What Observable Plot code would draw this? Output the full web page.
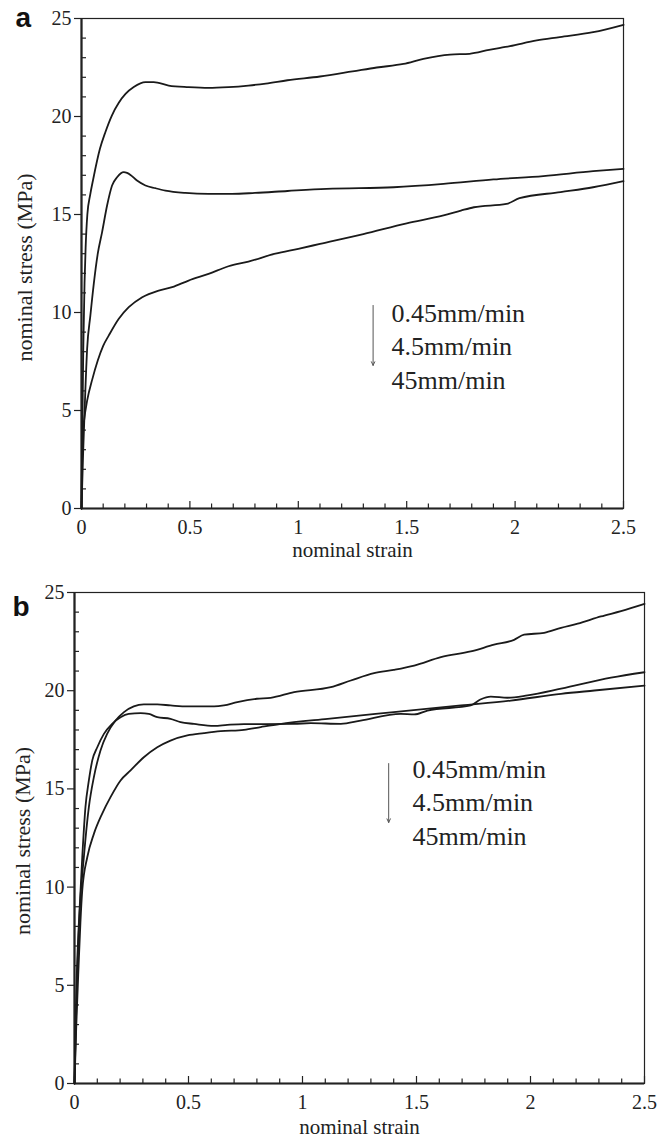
<!DOCTYPE html>
<html><head><meta charset="utf-8">
<script src="https://cdn.jsdelivr.net/npm/d3@7"></script>
<script src="https://cdn.jsdelivr.net/npm/@observablehq/plot@0.6"></script>
<style>body{margin:0;background:#fff;} #a svg,#b svg{display:block;}</style>
</head><body><div id="a"></div><div id="b"></div>
<script>
// ---- tick values ----
const xMajor = [0, 0.5, 1, 1.5, 2, 2.5];
const xMinor = [0.1,0.2,0.3,0.4,0.6,0.7,0.8,0.9,1.1,1.2,1.3,1.4,1.6,1.7,1.8,1.9,2.1,2.2,2.3,2.4];
const yMajor = [0, 5, 10, 15, 20, 25];
const yMinor = [1,2,3,4,6,7,8,9,11,12,13,14,16,17,18,19,21,22,23,24];
const legendLabels = ["0.45mm/min", "4.5mm/min", "45mm/min"];
const xTitle = "nominal strain";
const yTitle = "nominal stress (MPa)";

// ---- panel a: [strain, stress] ----
const aUpper = [[0,0],[0.004,4],[0.008,8],[0.014,11.5],[0.019,13.3],[0.027,15],[0.04,16],[0.054,16.8],[0.085,18.35],[0.11,19.2],[0.14,20.05],[0.172,20.7],[0.203,21.15],[0.241,21.5],[0.295,21.75],[0.333,21.75],[0.402,21.58],[0.494,21.5],[0.586,21.46],[0.678,21.5],[0.77,21.58],[0.85,21.68],[0.95,21.85],[1.10,22.04],[1.25,22.3],[1.362,22.5],[1.485,22.68],[1.577,22.94],[1.70,23.16],[1.79,23.2],[1.88,23.4],[1.976,23.59],[2.10,23.88],[2.206,24.05],[2.36,24.3],[2.5,24.68]];
const aMiddle = [[0,0],[0.008,3],[0.016,5.5],[0.026,8.15],[0.041,9.85],[0.057,11.5],[0.075,13.0],[0.095,14.1],[0.118,15.46],[0.141,16.48],[0.164,16.9],[0.195,17.16],[0.21,17.12],[0.226,17.02],[0.256,16.73],[0.295,16.48],[0.341,16.34],[0.387,16.22],[0.479,16.1],[0.586,16.05],[0.694,16.05],[0.80,16.1],[0.95,16.2],[1.13,16.31],[1.44,16.39],[1.67,16.56],[1.90,16.79],[2.13,16.96],[2.36,17.21],[2.5,17.33]];
const aLower = [[0,0],[0.002,2.5],[0.004,3.6],[0.012,4.5],[0.026,5.5],[0.05,6.6],[0.075,7.55],[0.1,8.3],[0.126,8.83],[0.172,9.68],[0.218,10.27],[0.28,10.78],[0.356,11.12],[0.418,11.29],[0.494,11.63],[0.586,11.97],[0.678,12.36],[0.77,12.6],[0.894,13.0],[1.0,13.25],[1.1,13.5],[1.3,14.0],[1.5,14.55],[1.67,14.95],[1.75,15.2],[1.81,15.37],[1.96,15.54],[2.02,15.83],[2.21,16.14],[2.36,16.39],[2.5,16.7]];

// ---- panel b ----
const bUpper = [[0,0],[0.006,3],[0.012,5.5],[0.023,8.81],[0.041,11.52],[0.063,14.07],[0.085,15.6],[0.114,16.96],[0.143,17.8],[0.18,18.48],[0.217,18.91],[0.26,19.2],[0.304,19.3],[0.363,19.3],[0.421,19.25],[0.495,19.2],[0.612,19.2],[0.655,19.25],[0.714,19.42],[0.80,19.59],[0.86,19.64],[0.963,19.93],[1.124,20.18],[1.212,20.52],[1.314,20.89],[1.40,21.06],[1.49,21.28],[1.607,21.71],[1.738,22.0],[1.84,22.34],[1.928,22.59],[1.972,22.85],[2.06,22.95],[2.134,23.2],[2.207,23.41],[2.309,23.78],[2.397,24.05],[2.5,24.42]];
const bMiddle = [[0,0],[0.005,3],[0.01,5.5],[0.019,8.13],[0.034,11.52],[0.048,14.07],[0.063,15.43],[0.078,16.45],[0.1,17.12],[0.129,17.8],[0.165,18.31],[0.202,18.65],[0.238,18.82],[0.29,18.86],[0.326,18.82],[0.363,18.65],[0.421,18.57],[0.465,18.4],[0.524,18.31],[0.612,18.21],[0.67,18.26],[0.743,18.3],[0.83,18.3],[0.963,18.31],[1.036,18.35],[1.168,18.31],[1.255,18.48],[1.431,18.82],[1.49,18.79],[1.548,18.99],[1.738,19.25],[1.78,19.55],[1.826,19.7],[1.899,19.64],[1.987,19.76],[2.134,20.1],[2.353,20.66],[2.5,20.94]];
const bLower = [[0,0],[0.008,3],[0.018,6],[0.026,8.2],[0.034,9.83],[0.056,11.52],[0.085,12.71],[0.121,13.73],[0.158,14.58],[0.202,15.43],[0.246,15.94],[0.304,16.61],[0.363,17.12],[0.421,17.46],[0.495,17.72],[0.568,17.84],[0.641,17.94],[0.743,18.01],[0.817,18.15],[0.9,18.3],[1.11,18.57],[1.40,18.91],[1.695,19.25],[1.914,19.5],[2.134,19.84],[2.28,20.01],[2.5,20.26]];

// ---- annotation anchors (data units) ----
const arrowA = [{x: 1.345, y1: 10.36, y2: 7.30}];
const arrowB = [{x: 1.378, y1: 16.29, y2: 13.29}];

const ink = "#222";
const serif = "'Liberation Serif', 'Times New Roman', serif";

function panel({H, mt, mb, ml, mr, series, arrow, letter, legendDx, legendDy, letterDx, letterDy, yTitleDx, yTitleDy, xTitleDy}) {
  const W = 672;
  const fw = W - ml - mr, fh = H - mt - mb;
  const data = series.flatMap((pts, k) => pts.map(([x, y]) => ({k, x, y})));
  return Plot.plot({
    width: W, height: H,
    marginTop: mt, marginBottom: mb, marginLeft: ml, marginRight: mr,
    x: {domain: [0, 2.5]},
    y: {domain: [0, 25]},
    style: {fontFamily: serif, fontSize: "20px", color: ink, background: "#fff", overflow: "visible"},
    marks: [
      Plot.frame({stroke: ink, strokeWidth: 1.2}),
      Plot.tickX(xMinor, {x: d => d, insetTop: fh - 4.5, stroke: ink, strokeWidth: 1.2}),
      Plot.tickX(xMajor, {x: d => d, insetTop: fh - 7, stroke: ink, strokeWidth: 1.2}),
      Plot.tickY(yMinor, {y: d => d, insetRight: fw - 5, stroke: ink, strokeWidth: 1.2}),
      Plot.axisY(yMajor, {tickSize: 7, tickPadding: 3, tickFormat: d => String(d), label: null, stroke: ink, strokeWidth: 1.2, fill: ink, fontFamily: serif, fontSize: 20}),
      Plot.axisX(xMajor, {tickSize: 0, tickPadding: 11, tickFormat: d => String(d), label: null, fill: ink, fontFamily: serif, fontSize: 20}),
      Plot.ruleY([0], {stroke: ink, strokeWidth: 2.2}),
      Plot.ruleX([0], {stroke: ink, strokeWidth: 2.2}),
      Plot.line(data, {x: "x", y: "y", z: "k", curve: "monotone-x", stroke: "#1a1a1a", strokeWidth: 1.8}),
      Plot.arrow(arrow, {x: "x", y1: "y1", y2: "y2", stroke: "#555", strokeWidth: 1, headLength: 6, headAngle: 50}),
      Plot.text([legendLabels.join("\n")], {frameAnchor: "top-left", dx: legendDx, dy: legendDy, lineAnchor: "top", textAnchor: "start", lineHeight: 1.29, fontSize: 26, fontFamily: serif, fill: ink}),
      Plot.text([xTitle], {frameAnchor: "bottom", dy: xTitleDy, lineAnchor: "bottom", textAnchor: "middle", fontSize: 21, fontFamily: serif, fill: ink}),
      Plot.text([yTitle], {frameAnchor: "left", dx: yTitleDx, dy: yTitleDy, rotate: -90, lineAnchor: "bottom", textAnchor: "middle", fontSize: 22, fontFamily: serif, fill: ink}),
      Plot.text([letter], {frameAnchor: "top-left", dx: letterDx, dy: letterDy, lineAnchor: "bottom", textAnchor: "start", fontSize: 28, fontWeight: "bold", fontFamily: "'Liberation Sans', Arial, sans-serif", fill: "#111"})
    ]
  });
}

const chartA = panel({H: 560, mt: 18, mb: 52, ml: 81, mr: 49,
  series: [aUpper, aMiddle, aLower], arrow: arrowA, letter: "a",
  legendDx: 310, legendDy: 279.5, letterDx: -66, letterDy: 8, yTitleDx: -50, yTitleDy: 4, xTitleDy: 48});
document.getElementById("a").append(chartA);

const chartB = panel({H: 578, mt: 32, mb: 55, ml: 74, mr: 28,
  series: [bUpper, bMiddle, bLower], arrow: arrowB, letter: "b",
  legendDx: 338, legendDy: 161.5, letterDx: -62, letterDy: 23, yTitleDx: -45, yTitleDy: 3, xTitleDy: 50});
document.getElementById("b").append(chartB);
</script>
</body></html>
